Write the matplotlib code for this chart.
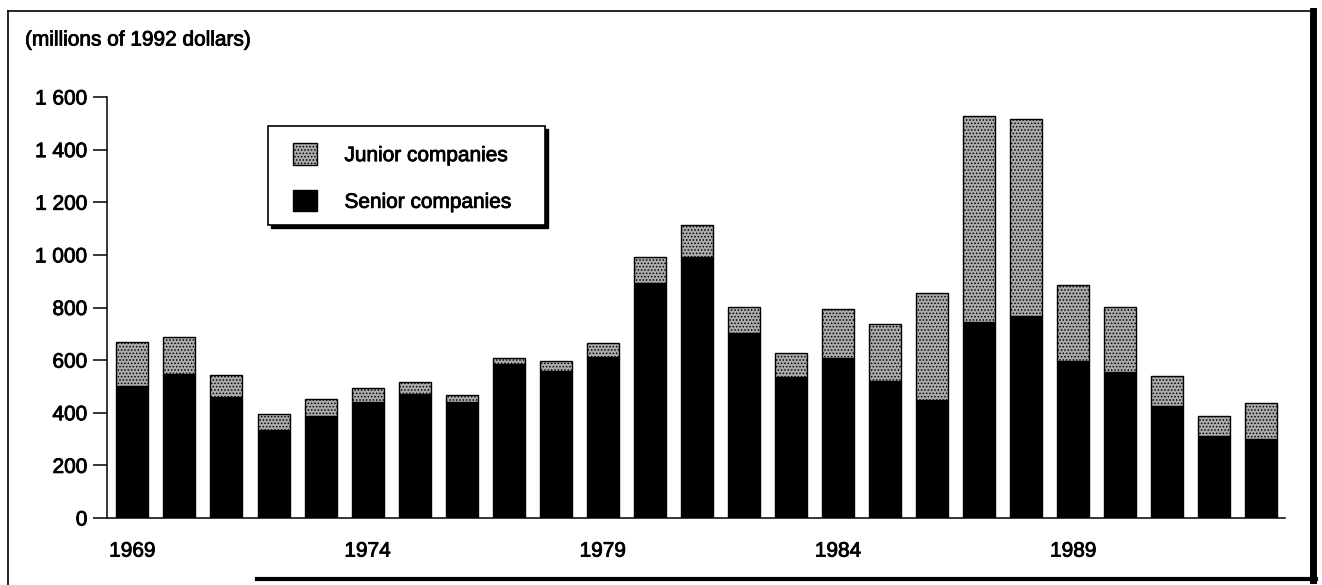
import matplotlib
matplotlib.use('Agg')
import matplotlib.pyplot as plt
import matplotlib.patheffects as pe
from matplotlib.lines import Line2D
from matplotlib.patches import Rectangle


years = list(range(1969, 1994))
senior = [502, 546, 459, 334, 387, 439, 473, 440, 584, 559, 612, 892, 991,
          702, 535, 609, 521, 449, 744, 768, 598, 556, 426, 313, 302]
junior = [168, 140, 84, 60, 65, 56, 44, 27, 23, 38, 52, 99, 123,
          101, 92, 184, 218, 408, 783, 750, 286, 247, 112, 73, 134]

y_ticks = [0, 200, 400, 600, 800, 1000, 1200, 1400, 1600]
y_labels = ['0', '200', '400', '600', '800', '1 000', '1 200', '1 400', '1 600']
x_ticks = [1969, 1974, 1979, 1984, 1989]

W, H = 1322, 585

plt.rcParams['font.family'] = ['Liberation Sans', 'DejaVu Sans']
plt.rcParams['font.size'] = 15
plt.rcParams['hatch.linewidth'] = 0.7

fig = plt.figure(figsize=(W / 100, H / 100), dpi=100)
ax = fig.add_axes([107 / W, 1 - 518 / H, (1285 - 107) / W, (518 - 97) / H])

# the scanned text is a bit heavier than plain Arial
heavy = [pe.withStroke(linewidth=0.6, foreground='black')]


def px_box(x0, y0, x1, y1):
    # pixel coords (top-left origin) -> figure fraction rectangle
    return x0 / W, 1 - y1 / H, (x1 - x0) / W, (y1 - y0) / H


# stacked bars, senior at the bottom, junior on top
ax.bar(years, senior, width=0.68, color='black', edgecolor='black',
       linewidth=1, label='Senior companies', zorder=2)
ax.bar(years, junior, width=0.68, bottom=senior, color='#ababab',
       edgecolor='black', linewidth=1, hatch='.....',
       label='Junior companies', zorder=2)

ax.set_xlim(1968.46, 1993.5)
ax.set_ylim(0, 1600)
ax.set_yticks(y_ticks)
ax.set_yticklabels(y_labels)
ax.set_xticks(x_ticks)
ax.set_xticklabels([str(x) for x in x_ticks])

ax.spines['top'].set_visible(False)
ax.spines['right'].set_visible(False)
ax.spines['left'].set_linewidth(1.1)
ax.spines['bottom'].set_linewidth(1.1)
ax.tick_params(axis='y', direction='out', length=10, width=1.1, pad=4)
ax.tick_params(axis='x', length=0, pad=17)
for t in ax.get_xticklabels() + ax.get_yticklabels():
    t.set_path_effects(heavy)

fig.text(25 / W, 1 - 40 / H, '(millions of 1992 dollars)', ha='left', va='center',
         path_effects=heavy)

# legend box with its black drop shadow drawn by hand (kept inside the axes so
# the legend can sit on top of it)
sx, sy, sw, sh = px_box(271, 129, 548, 228)
ax.add_patch(Rectangle((sx, sy), sw, sh, transform=fig.transFigure, clip_on=False,
                       facecolor='black', edgecolor='black', zorder=3))
bx, by, bw, bh = px_box(268, 126, 545, 225)
ax.add_patch(Rectangle((bx, by), bw, bh, transform=fig.transFigure, clip_on=False,
                       facecolor='white', edgecolor='black', linewidth=1.2, zorder=4))

handles, labels = ax.get_legend_handles_labels()
leg = ax.legend(handles[::-1], labels[::-1], loc='upper left',
                bbox_to_anchor=(283 / W, 1 - 133 / H), bbox_transform=fig.transFigure,
                frameon=False, borderpad=0, handlelength=1.15, handleheight=1.2,
                handletextpad=1.3, labelspacing=1.2)
leg.set_zorder(5)
for t in leg.get_texts():
    t.set_path_effects(heavy)

# outer frame of the figure, thick on right and bottom like a shadow
fig.add_artist(Line2D([8 / W, 1312 / W], [1 - 11 / H, 1 - 11 / H],
                      transform=fig.transFigure, color='black', linewidth=1.2))
fig.add_artist(Line2D([8 / W, 8 / W], [1 - 11 / H, 0], transform=fig.transFigure,
                      color='black', linewidth=1.2))
fig.add_artist(Line2D([1313 / W, 1313 / W], [1 - 11 / H, 1 - 580 / H],
                      transform=fig.transFigure, color='black', linewidth=5))
fig.add_artist(Line2D([257 / W, 1316 / W], [1 - 579 / H, 1 - 579 / H],
                      transform=fig.transFigure, color='black', linewidth=3))

fig.savefig('out.png', dpi=100)
